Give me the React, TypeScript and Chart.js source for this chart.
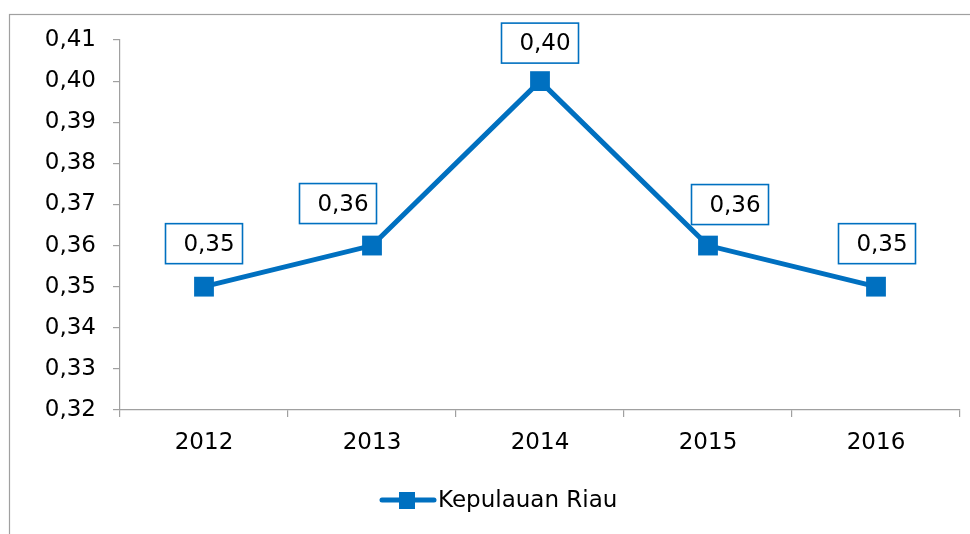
import React, { useEffect, useRef } from "react";
import { Chart, registerables } from "chart.js";

Chart.register(...registerables);

const categories = ["2012", "2013", "2014", "2015", "2016"];
const seriesName = "Kepulauan Riau";
const seriesValues = [0.35, 0.36, 0.40, 0.36, 0.35];
const yMin = 0.32;
const yMax = 0.41;
const yStep = 0.01;

const BLUE = "#0070C0";
const FONT = "'DejaVu Sans', sans-serif";

// label box offsets (px) relative to each point
const labelDx = [0, -34, 0, 22, 1];
const labelDy = [-43, -42, -38, -41, -43];

const fmt = (v: number) => v.toFixed(2).replace(".", ",");

const decorPlugin = {
  id: "decor",
  beforeDraw(chart: any) {
    const ctx = chart.ctx;
    ctx.save();
    ctx.fillStyle = "#ffffff";
    ctx.fillRect(0, 0, chart.width, chart.height);
    ctx.strokeStyle = "#a0a0a0";
    ctx.lineWidth = 1.2;
    ctx.strokeRect(9.5, 14.5, 3000, 3000);
    ctx.restore();
  },
  afterDatasetsDraw(chart: any) {
    const ctx = chart.ctx;
    const meta = chart.getDatasetMeta(0);
    ctx.save();
    ctx.font = `23px ${FONT}`;
    ctx.textAlign = "center";
    ctx.textBaseline = "middle";
    meta.data.forEach((pt: any, i: number) => {
      const cx = pt.x + labelDx[i];
      const cy = pt.y + labelDy[i];
      const w = 77;
      const h = 40;
      ctx.fillStyle = "#ffffff";
      ctx.fillRect(cx - w / 2, cy - h / 2, w, h);
      ctx.strokeStyle = BLUE;
      ctx.lineWidth = 1.6;
      ctx.strokeRect(cx - w / 2, cy - h / 2, w, h);
      ctx.fillStyle = "#000000";
      ctx.fillText(fmt(seriesValues[i]), cx + 5, cy + 1);
    });
    ctx.restore();
  },
  afterDraw(chart: any) {
    const ctx = chart.ctx;
    ctx.save();
    const y = 500;
    ctx.strokeStyle = BLUE;
    ctx.lineWidth = 5;
    ctx.lineCap = "round";
    ctx.beginPath();
    ctx.moveTo(382, y);
    ctx.lineTo(434, y);
    ctx.stroke();
    ctx.fillStyle = BLUE;
    ctx.fillRect(399, y - 8, 16, 17);
    ctx.fillStyle = "#000000";
    ctx.font = `23px ${FONT}`;
    ctx.textAlign = "left";
    ctx.textBaseline = "middle";
    ctx.fillText(seriesName, 438, y + 1);
    ctx.restore();
  },
};

export default function App() {
  const ref = useRef<HTMLCanvasElement | null>(null);
  useEffect(() => {
    if (!ref.current) return;
    const chart = new Chart(ref.current, {
      type: "line",
      data: {
        labels: categories,
        datasets: [
          {
            label: seriesName,
            data: seriesValues,
            borderColor: BLUE,
            backgroundColor: BLUE,
            borderWidth: 5,
            pointStyle: "rect",
            pointRadius: 14,
            pointBorderWidth: 0,
            pointBackgroundColor: BLUE,
            tension: 0,
            clip: false,
          },
        ],
      },
      plugins: [decorPlugin],
      options: {
        responsive: false,
        animation: false,
        layout: { autoPadding: false, padding: { top: 40, left: 0, right: 10, bottom: 0 } },
        plugins: {
          legend: { display: false },
          tooltip: { enabled: false },
          title: { display: false },
        },
        scales: {
          x: {
            offset: true,
            grid: {
              offset: true,
              drawOnChartArea: false,
              tickLength: 7,
              color: "#a0a0a0",
              lineWidth: 1.2,
            },
            border: { color: "#a0a0a0", width: 1.2 },
            ticks: {
              color: "#000000",
              font: { family: FONT, size: 23 },
              padding: 12,
              maxRotation: 0,
            },
            afterFit(scale: any) {
              scale.height = 124;
              scale.paddingLeft = 0;
              scale.paddingRight = 0;
            },
          },
          y: {
            min: yMin,
            max: yMax,
            grid: {
              drawOnChartArea: false,
              tickLength: 7,
              color: "#a0a0a0",
              lineWidth: 1.2,
            },
            border: { color: "#a0a0a0", width: 1.2 },
            ticks: {
              stepSize: yStep,
              color: "#000000",
              font: { family: FONT, size: 23 },
              padding: 17,
              callback: (v: any) => fmt(Number(v)),
            },
            afterFit(scale: any) {
              scale.width = 120;
            },
          },
        },
      },
    });
    return () => chart.destroy();
  }, []);
  return (
    <div style={{ position: "fixed", left: 0, top: 0, width: 970, height: 534, background: "#fff" }}>
      <canvas ref={ref} width={970} height={534} style={{ display: "block" }} />
    </div>
  );
}
